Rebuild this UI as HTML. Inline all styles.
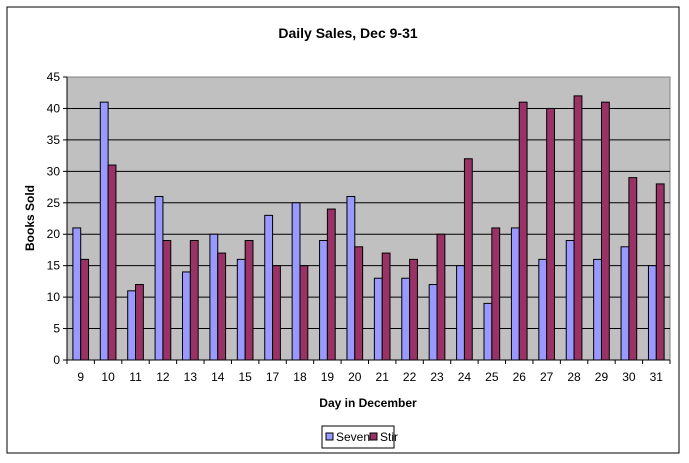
<!DOCTYPE html>
<html><head><meta charset="utf-8"><style>
body{margin:0;background:#fff;}
svg{display:block;font-family:"Liberation Sans",Arial,sans-serif;}
</style></head><body>
<svg id="chart" width="689" height="463">
<rect x="7" y="7" width="672" height="446" fill="#fff" stroke="#000" stroke-width="1"/>
<text x="348" y="38" text-anchor="middle" font-size="14" font-weight="bold">Daily Sales, Dec 9-31</text>
<rect x="67" y="77" width="603" height="283" fill="#c0c0c0" stroke="#808080"/>
<g id="grid"></g><g id="bars"></g><g id="axes"></g>
<text transform="translate(34,218) rotate(-90)" text-anchor="middle" font-size="12" font-weight="bold">Books Sold</text>
<text x="368" y="407" text-anchor="middle" font-size="12" font-weight="bold">Day in December</text>
<g>
<rect x="322" y="426" width="72" height="22" fill="#fff" stroke="#000"/>
<rect x="326" y="433" width="7" height="7" fill="#9999ff" stroke="#000"/>
<text x="336" y="441" font-size="12">Seven</text>
<rect x="370" y="433" width="7" height="7" fill="#993366" stroke="#000"/>
<text x="380" y="441" font-size="12">Stir</text>
</g>
</svg>
<script>
const categories=["9","10","11","12","13","14","15","17","18","19","20","21","22","23","24","25","26","27","28","29","30","31"];
const seven=[21,41,11,26,14,20,16,23,25,19,26,13,13,12,15,9,21,16,19,16,18,15];
const stir=[16,31,12,19,19,17,19,15,15,24,18,17,16,20,32,21,41,40,42,41,29,28];
const yTicks=[0,5,10,15,20,25,30,35,40,45];
const NS="http://www.w3.org/2000/svg";
const L=67,R=670,T=77,B=360,YMAX=45;
const cw=(R-L)/categories.length, bw=cw/3.5;
function y(v){return B-(v/YMAX)*(B-T);}
function mk(t,a,p){const e=document.createElementNS(NS,t);for(const k in a)e.setAttribute(k,a[k]);p.appendChild(e);return e;}
const grid=document.getElementById('grid'),bars=document.getElementById('bars'),axes=document.getElementById('axes');
yTicks.forEach(v=>{
 if(v>0&&v<YMAX){const g=mk('line',{x1:L,x2:R,y1:y(v),y2:y(v),stroke:'#000'},grid);
 
 }
 const tk=mk('line',{x1:L-4,x2:L,y1:y(v),y2:y(v),stroke:'#000'},axes);
 
 
 const t=mk('text',{x:L-7,y:y(v)+4,'text-anchor':'end','font-size':12},axes);t.textContent=v;
 
 
});
mk('line',{x1:L,x2:L,y1:T,y2:B,stroke:'#000'},axes);
mk('line',{x1:L,x2:R,y1:B,y2:B,stroke:'#000'},axes);
categories.forEach((c,i)=>{
 const x0=L+i*cw;
 const a=mk('rect',{x:x0+bw*0.75,y:y(seven[i]),width:bw,height:B-y(seven[i]),fill:'#9999ff',stroke:'#000'},bars);
 
 
 const b=mk('rect',{x:x0+bw*1.75,y:y(stir[i]),width:bw,height:B-y(stir[i]),fill:'#993366',stroke:'#000'},bars);
 
 
 mk('line',{x1:x0+cw,x2:x0+cw,y1:B,y2:B+4,stroke:'#000'},axes);
 const t=mk('text',{x:x0+cw/2,y:B+21,'text-anchor':'middle','font-size':12},axes);t.textContent=c;
 
 
});
mk('line',{x1:L,x2:L,y1:B,y2:B+4,stroke:'#000'},axes);
</script>
</body></html>
